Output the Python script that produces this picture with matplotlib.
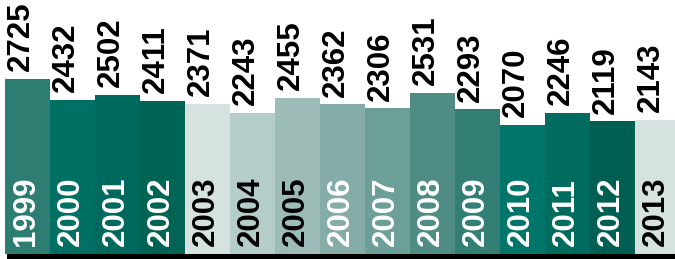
import matplotlib.pyplot as plt
import numpy as np

years = ["1999", "2000", "2001", "2002", "2003", "2004", "2005", "2006",
         "2007", "2008", "2009", "2010", "2011", "2012", "2013"]
values = [2725, 2432, 2502, 2411, 2371, 2243, 2455, 2362,
          2306, 2531, 2293, 2070, 2246, 2119, 2143]
colors = ["#2e7d73", "#007065", "#00695e", "#006455", "#d6e2e0",
          "#b5cdc9", "#9dbcb8", "#85aca7", "#6b9f97", "#4f8d84",
          "#337f76", "#00766a", "#006b5f", "#005f53", "#d6e2e0"]
year_text = ["white", "white", "white", "white", "black", "black", "black",
             "white", "white", "white", "white", "white", "white", "white",
             "black"]

plt.rcParams['font.family'] = ['Liberation Sans', 'DejaVu Sans']

fig = plt.figure(figsize=(6.75, 2.59), dpi=100)
ax = fig.add_axes([0, 0, 1, 1])

base = 225          # value at the bar baseline
px = 0.07           # pixels per unit
x = np.arange(len(years))

ax.bar(x, np.array(values) - base, width=1.0, bottom=base, color=colors)

# thick baseline
ylo = base - 5 / px
ax.axhspan(ylo, base, xmin=7 / 675, xmax=1, color="black", lw=0)

for i in range(len(years)):
    ax.annotate(str(values[i]), xy=(x[i], values[i]), xytext=(-5, 5.5),
                textcoords="offset points", rotation=90, ha="center",
                va="bottom", fontsize=22.5, fontweight="bold", color="black")
    ax.annotate(years[i], xy=(x[i], base), xytext=(-1, 6),
                textcoords="offset points", rotation=90, ha="center",
                va="bottom", fontsize=22.5, fontweight="bold", color=year_text[i])

ax.set_xlim(-0.5 - 5 / 45, -0.5 - 5 / 45 + 675 / 45)
ax.set_ylim(ylo, base + 254 / px)
ax.axis("off")

fig.savefig("out.png", dpi=100)
